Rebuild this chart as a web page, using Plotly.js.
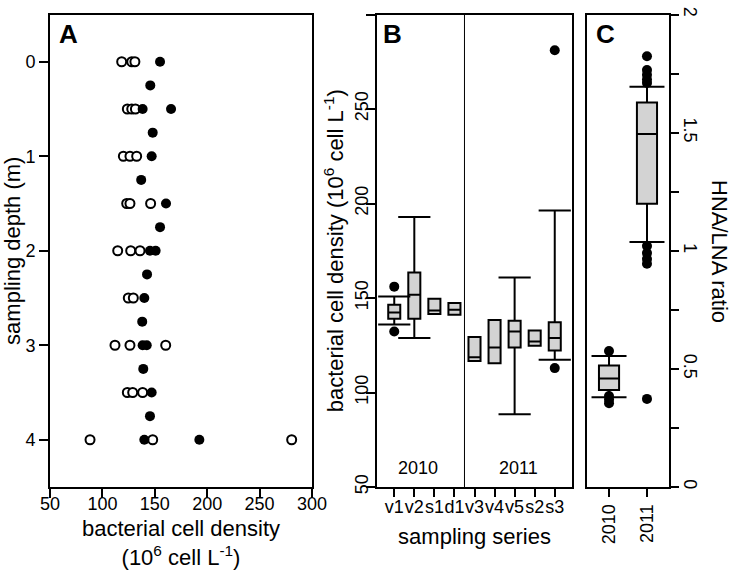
<!DOCTYPE html>
<html>
<head>
<meta charset="utf-8">
<script src="https://cdn.plot.ly/plotly-3.0.1.min.js"></script>
<style>html,body{margin:0;padding:0;background:#fff;}#chart{width:731px;height:570px;}</style>
</head>
<body>
<div id="chart"></div>
<script>
// ---- Panel A: depth profile ----
const aFilledDepth   = [0, 0.25, 0.5, 0.5, 0.75, 1, 1.25, 1.5, 1.75, 2, 2, 2.25, 2.5, 2.75, 3, 3, 3.25, 3.5, 3.75, 4, 4];
const aFilledDensity = [155, 145.7, 138.4, 165.5, 148, 147, 137, 160.7, 155, 145.4, 150.8, 142.6, 140, 138, 138.4, 142.3, 139, 147, 145.4, 140, 192.5];
const aOpenDepth     = [0, 0, 0, 0.5, 0.5, 0.5, 1, 1, 1, 1.5, 1.5, 1.5, 2, 2, 2, 2.5, 2.5, 3, 3, 3, 3.5, 3.5, 3.5, 4, 4, 4];
const aOpenDensity   = [118.4, 128, 131, 123.8, 128, 131.5, 120, 126.3, 132.7, 123.2, 126.3, 146, 114.6, 127, 135.9, 124.7, 129.5, 112, 126.3, 160.4, 123.8, 128.9, 138.4, 88.2, 148, 280.6];
const aXTicks = [50, 100, 150, 200, 250, 300];
const aYTicks = [0, 1, 2, 3, 4];

// ---- Panel B: sampling series boxes ----
const bSeries     = ['v1', 'v2', 's1', 'd1', 'v3', 'v4', 'v5', 's2', 's3'];
const bQ1         = [139, 139, 141.5, 141.1, 116.7, 115.5, 123.8, 124.7, 122.2];
const bMedian     = [142.3, 151.7, 143.4, 143.8, 118.7, 123.8, 132.3, 127, 128.8];
const bQ3         = [146.4, 163.5, 149.6, 147.3, 129.3, 138.4, 137.9, 132.8, 137.2];
const bLower      = [136, 128.8, 141.5, 141.1, 116.7, 115.5, 88.5, 124.7, 117.3];
const bUpper      = [150.8, 192.8, 149.6, 147.3, 129.3, 138.4, 160.9, 132.8, 196.3];
const bOutSeries  = ['v1', 'v1', 's3', 's3'];
const bOutValue   = [156, 132.3, 281.1, 112.9];
const bYears      = ['2010', '2011'];
const bYearLabelX = [2.2, 7.2];
const bYTicks = [50, 100, 150, 200, 250, 300];

// ---- Panel C: HNA/LNA ratio ----
const cYears      = ['2010', '2011'];
const cQ1         = [0.411, 1.199];
const cMedian     = [0.459, 1.494];
const cQ3         = [0.514, 1.628];
const cLower      = [0.38, 1.037];
const cUpper      = [0.555, 1.694];
const cOutYear    = ['2010', '2010', '2010', '2010', '2011', '2011', '2011', '2011', '2011', '2011', '2011', '2011', '2011', '2011'];
const cOutValue   = [0.576, 0.385, 0.37, 0.355, 1.823, 1.765, 1.745, 1.725, 1.71, 1.02, 0.99, 0.965, 0.945, 0.373];
const cYTicks     = [0, 0.5, 1, 1.5, 2];
const cYMinor     = [0.25, 0.75, 1.25, 1.75];

// ---------------------------------------------------------------
const FONT = 'Liberation Sans, Arial, Helvetica, sans-serif';
const BOXFILL = '#d3d3d3';
const bPos = bSeries.map((s, i) => i + 1);
const cPos = cYears.map((s, i) => i + 1);
const posOf = (arr, key) => arr.indexOf(key) + 1;

function caps(pos, lower, q1, upper, q3) {
  const x = [], y = [];
  pos.forEach((p, i) => {
    if (lower[i] < q1[i]) { x.push(p); y.push(lower[i]); }
    if (upper[i] > q3[i]) { x.push(p); y.push(upper[i]); }
  });
  return {x, y};
}
const bCaps = caps(bPos, bLower, bQ1, bUpper, bQ3);
const cCaps = caps(cPos, cLower, cQ1, cUpper, cQ3);

const traces = [
  {type: 'scatter', mode: 'markers', x: aOpenDensity, y: aOpenDepth, xaxis: 'x', yaxis: 'y',
   marker: {symbol: 'circle', size: 9, color: '#fff', line: {color: '#000', width: 2}}, hoverinfo: 'none'},
  {type: 'scatter', mode: 'markers', x: aFilledDensity, y: aFilledDepth, xaxis: 'x', yaxis: 'y',
   marker: {symbol: 'circle', size: 10, color: '#000'}, hoverinfo: 'none'},

  {type: 'box', x: bPos, q1: bQ1, median: bMedian, q3: bQ3, lowerfence: bLower, upperfence: bUpper,
   xaxis: 'x2', yaxis: 'y2', width: 0.6, whiskerwidth: 0, boxpoints: false,
   fillcolor: BOXFILL, line: {color: '#000', width: 2}, hoverinfo: 'none'},
  {type: 'scatter', mode: 'markers', x: bCaps.x, y: bCaps.y, xaxis: 'x2', yaxis: 'y2',
   marker: {symbol: 'line-ew', size: 23, line: {color: '#000', width: 2}}, hoverinfo: 'none'},
  {type: 'scatter', mode: 'markers', x: bOutSeries.map(s => posOf(bSeries, s)), y: bOutValue, xaxis: 'x2', yaxis: 'y2',
   marker: {symbol: 'circle', size: 10, color: '#000'}, hoverinfo: 'none'},

  {type: 'box', x: cPos, q1: cQ1, median: cMedian, q3: cQ3, lowerfence: cLower, upperfence: cUpper,
   xaxis: 'x3', yaxis: 'y3', width: 0.53, whiskerwidth: 0, boxpoints: false,
   fillcolor: BOXFILL, line: {color: '#000', width: 2}, hoverinfo: 'none'},
  {type: 'scatter', mode: 'markers', x: cCaps.x, y: cCaps.y, xaxis: 'x3', yaxis: 'y3',
   marker: {symbol: 'line-ew', size: 25, line: {color: '#000', width: 2}}, hoverinfo: 'none'},
  {type: 'scatter', mode: 'markers', x: cOutYear.map(s => posOf(cYears, s)), y: cOutValue, xaxis: 'x3', yaxis: 'y3',
   marker: {symbol: 'circle', size: 10, color: '#000'}, hoverinfo: 'none'}
];

const W = 731, H = 570;
const yDom = [1 - 487 / H, 1 - 14.5 / H];
const axBase = {
  showgrid: false, zeroline: false, showline: true, mirror: true, linecolor: '#000', linewidth: 2,
  ticks: 'outside', ticklen: 9, tickwidth: 2, tickcolor: '#000',
  tickfont: {family: FONT, size: 18, color: '#000'}, fixedrange: true
};
const titleFont = {family: FONT, size: 22, color: '#000'};
const panelFont = {family: FONT, size: 26, color: '#000'};

const layout = {
  width: W, height: H, margin: {l: 0, r: 0, t: 0, b: 0},
  paper_bgcolor: '#fff', plot_bgcolor: '#fff', showlegend: false,
  font: {family: FONT, color: '#000'},
  xaxis: Object.assign({}, axBase, {
    domain: [50 / W, 312 / W], anchor: 'y', range: [50, 300], tickmode: 'array', tickvals: aXTicks,
    tickangle: 0, ticklabelstandoff: -10,
    title: {text: 'bacterial cell density<br>(10<sup>6</sup> cell L<sup>-1</sup>)', font: titleFont, standoff: 17}
  }),
  yaxis: Object.assign({}, axBase, {
    domain: yDom, anchor: 'x', range: [4.5, -0.5], tickmode: 'array', tickvals: aYTicks,
    title: {text: 'sampling depth (m)', font: titleFont, standoff: 6}
  }),
  xaxis2: Object.assign({}, axBase, {
    domain: [377 / W, 572 / W], anchor: 'y2', range: [0.14, 9.86], tickmode: 'array',
    tickvals: bPos, ticktext: bSeries, ticklen: 8, tickangle: 0, ticklabelstandoff: -6,
    title: {text: 'sampling series', font: titleFont, standoff: 13}
  }),
  yaxis2: Object.assign({}, axBase, {
    domain: yDom, anchor: 'x2', range: [50, 300], tickmode: 'array', tickvals: bYTicks, tickangle: -90,
    ticklabelstandoff: -9,
    title: {text: 'bacterial cell density (10<sup>6</sup> cell L<sup>-1</sup>)', font: titleFont, standoff: 2}
  }),
  xaxis3: Object.assign({}, axBase, {
    domain: [587 / W, 669 / W], anchor: 'y3', range: [0.42, 2.58], tickmode: 'array',
    tickvals: cPos, ticktext: cYears, tickangle: -90, ticklen: 8
  }),
  yaxis3: Object.assign({}, axBase, {
    domain: yDom, anchor: 'x3', side: 'right', range: [0, 2], tickmode: 'array',
    tickvals: cYTicks, tickangle: 90, ticklen: 8, ticklabelstandoff: -2,
    minor: {tickmode: 'array', tickvals: cYMinor, ticks: 'outside', ticklen: 8, tickwidth: 2, tickcolor: '#000', showgrid: false}
  }),
  shapes: [
    {type: 'line', xref: 'x2', yref: 'y2 domain', x0: 4.5, x1: 4.5, y0: 0, y1: 1, line: {color: '#000', width: 1}}
  ],
  annotations: [
    {xref: 'paper', yref: 'paper', x: 57 / W, y: 1 - 17 / H, xanchor: 'left', yanchor: 'top', showarrow: false,
     text: '<b>A</b>', font: panelFont},
    {xref: 'paper', yref: 'paper', x: 381 / W, y: 1 - 17 / H, xanchor: 'left', yanchor: 'top', showarrow: false,
     text: '<b>B</b>', font: panelFont},
    {xref: 'paper', yref: 'paper', x: 594 / W, y: 1 - 17 / H, xanchor: 'left', yanchor: 'top', showarrow: false,
     text: '<b>C</b>', font: panelFont},
    {xref: 'x2', yref: 'y2', x: bYearLabelX[0], y: 60, showarrow: false, text: bYears[0],
     font: {family: FONT, size: 18, color: '#000'}},
    {xref: 'x2', yref: 'y2', x: bYearLabelX[1], y: 60, showarrow: false, text: bYears[1],
     font: {family: FONT, size: 18, color: '#000'}},
    {xref: 'paper', yref: 'paper', x: 720 / W, y: 1 - 251 / H, xanchor: 'center', yanchor: 'middle',
     showarrow: false, textangle: 90, text: 'HNA/LNA ratio', font: titleFont}
  ]
};

Plotly.newPlot('chart', traces, layout, {staticPlot: true, displayModeBar: false});
</script>
</body>
</html>
